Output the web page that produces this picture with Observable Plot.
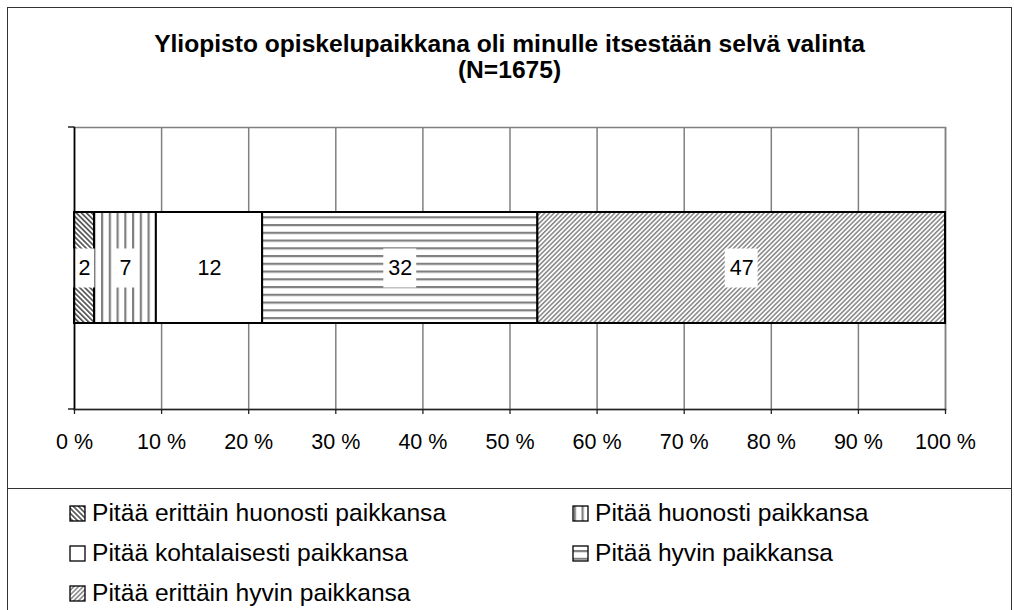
<!DOCTYPE html>
<html>
<head>
<meta charset="utf-8">
<script src="https://cdn.jsdelivr.net/npm/d3@7"></script>
<script src="https://cdn.jsdelivr.net/npm/@observablehq/plot@0.6"></script>
<style>
  html, body { margin: 0; padding: 0; background: #fff; }
  body { font-family: "Liberation Sans", Arial, sans-serif; width: 1014px; height: 610px; overflow: hidden; position: relative; }
  #chartbox { position: absolute; left: 7px; top: 7px; width: 1005px; height: 482px; box-sizing: border-box; border: 1px solid #333; }
  #legendbox { position: absolute; left: 7px; top: 489px; width: 1005px; height: 140px; box-sizing: border-box; border-left: 1px solid #333; border-right: 1px solid #333; }
  .title { position: absolute; left: 8px; width: 1003px; text-align: center; font-weight: bold; font-size: 24.6px; line-height: 26px; color: #000; }
  #plot { position: absolute; left: 8px; top: 100px; }
  #legend { position: absolute; left: 8px; top: 488px; }
  #defs { position: absolute; left: 0; top: 0; width: 0; height: 0; }
</style>
</head>
<body>
<svg id="defs" width="0" height="0" aria-hidden="true">
  <defs>
    <pattern id="pat0" patternUnits="userSpaceOnUse" width="3.6" height="10" patternTransform="rotate(-45)">
      <rect width="3.6" height="10" fill="#fff"/>
      <rect width="1.7" height="10" fill="#555"/>
    </pattern>
    <pattern id="pat1" patternUnits="userSpaceOnUse" width="7.75" height="10">
      <rect width="7.75" height="10" fill="#fff"/>
      <rect x="0" width="2.2" height="10" fill="#808080"/>
    </pattern>
    <pattern id="pat2" patternUnits="userSpaceOnUse" width="10" height="10">
      <rect width="10" height="10" fill="#fff"/>
    </pattern>
    <pattern id="pat3" patternUnits="userSpaceOnUse" width="10" height="7.75">
      <rect width="10" height="7.75" fill="#fff"/>
      <rect y="0" width="10" height="2.2" fill="#808080"/>
    </pattern>
    <pattern id="pat4" patternUnits="userSpaceOnUse" width="3.3" height="10" patternTransform="rotate(45)">
      <rect width="3.3" height="10" fill="#fff"/>
      <rect width="1.6" height="10" fill="#8c8c8c"/>
    </pattern>
  </defs>
</svg>
<div id="chartbox"></div>
<div id="legendbox"></div>
<div class="title" id="t1" style="top:31px"></div>
<div class="title" id="t2" style="top:57px"></div>
<div id="plot"></div>
<div id="legend"></div>
<script>
// ---- data ----
const titleLine1 = "Yliopisto opiskelupaikkana oli minulle itsestään selvä valinta";
const titleLine2 = "(N=1675)";
const rowName = "Yliopisto";
const categories = [
  "Pitää erittäin huonosti paikkansa",
  "Pitää huonosti paikkansa",
  "Pitää kohtalaisesti paikkansa",
  "Pitää hyvin paikkansa",
  "Pitää erittäin hyvin paikkansa"
];
const shares = [2.3, 7.1, 12.2, 31.6, 46.8];
const xTicks = [0, 10, 20, 30, 40, 50, 60, 70, 80, 90, 100];
const tickSuffix = " %";
const patternIds = ["pat0", "pat1", "pat2", "pat3", "pat4"];

// ---- derived rows ----
const cum = d3.cumsum(shares);
const rows = categories.map((c, i) => ({
  cat: rowName,
  name: c,
  value: shares[i],
  x1: cum[i] - shares[i],
  x2: cum[i],
  label: d3.format(".0f")(shares[i]),
  fill: `url(#${patternIds[i]})`
}));

document.getElementById("t1").textContent = titleLine1;
document.getElementById("t2").textContent = titleLine2;

const LABEL_FS = 21.5;

function labelBoxes(index, scales, values, dims) {
  const g = d3.create("svg:g");
  const cy = (dims.marginTop + dims.height - dims.marginBottom) / 2;
  for (const r of rows) {
    const cx = scales.x((r.x1 + r.x2) / 2);
    const w = r.label.length * 0.556 * LABEL_FS + 9;
    g.append("rect")
      .attr("x", cx - w / 2).attr("y", cy - 19.5)
      .attr("width", w).attr("height", 39)
      .attr("fill", "#fff");
  }
  return g.node();
}

function leftTicks(index, scales, values, dims) {
  const g = d3.create("svg:g").attr("stroke", "#000").attr("stroke-width", 1.3);
  const x = dims.marginLeft;
  for (const y of [dims.marginTop, dims.height - dims.marginBottom]) {
    g.append("line").attr("x1", x - 6).attr("x2", x).attr("y1", y).attr("y2", y);
  }
  return g.node();
}

const plot = Plot.plot({
  width: 1002,
  height: 386,
  marginLeft: 66,
  marginRight: 65,
  marginTop: 27,
  marginBottom: 77,
  style: { fontFamily: "'Liberation Sans', Arial, sans-serif", background: "transparent", color: "#000" },
  x: { domain: [0, 100] },
  y: { domain: [rowName], padding: 0.433, axis: null },
  marks: [
    Plot.gridX(xTicks, { stroke: "#808080", strokeOpacity: 1, strokeWidth: 1.5 }),
    Plot.frame({ stroke: "#808080", strokeWidth: 1.5 }),
    ...rows.map(r => Plot.barX([r], { x1: "x1", x2: "x2", y: "cat", fill: r.fill, stroke: "#000", strokeWidth: 2 })),
    labelBoxes,
    Plot.text(rows, { x: d => (d.x1 + d.x2) / 2, y: "cat", text: "label", fontSize: LABEL_FS, fill: "#000" }),
    Plot.frame({ anchor: "left", stroke: "#000", strokeWidth: 1.5 }),
    Plot.frame({ anchor: "bottom", stroke: "#222", strokeWidth: 1.5 }),
    leftTicks,
    Plot.axisX(xTicks, { anchor: "bottom", tickSize: 5, tickPadding: 19, fontSize: 21.5, stroke: "#222", strokeWidth: 1.3, tickFormat: d => d + tickSuffix, fill: "#000" })
  ]
});
document.getElementById("plot").appendChild(plot);

// ---- legend ----
const LEG_FS = 24.6;
const legend = d3.select("#legend").append("svg")
  .attr("width", 1002).attr("height", 122)
  .style("font-family", "'Liberation Sans', Arial, sans-serif");
rows.forEach((r, i) => {
  const col = i % 2, row = Math.floor(i / 2);
  const sx = col === 0 ? 62 : 565;
  const base = 33 + row * 40;
  legend.append("rect")
    .attr("x", sx).attr("y", base - 15).attr("width", 15).attr("height", 15)
    .attr("fill", r.fill).attr("stroke", "#000").attr("stroke-width", 1.3);
  legend.append("text")
    .attr("x", sx + 22).attr("y", base)
    .attr("font-size", LEG_FS).attr("fill", "#000")
    .text(r.name);
});
</script>
</body>
</html>
